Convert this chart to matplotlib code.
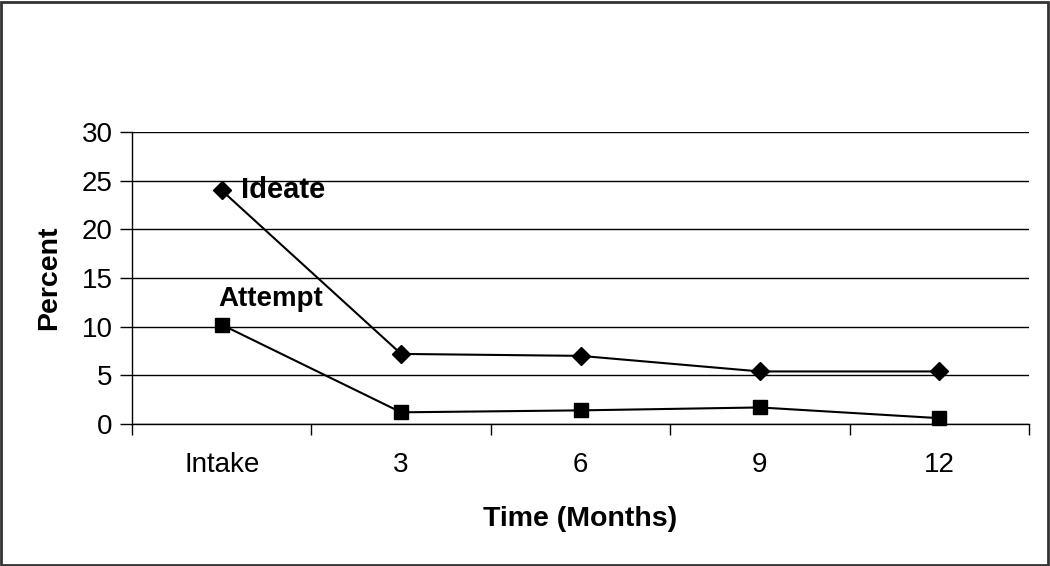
import matplotlib
matplotlib.use("Agg")
import matplotlib.pyplot as plt
from matplotlib.patches import Rectangle
import numpy as np

# Data
categories = ["Intake", "3", "6", "9", "12"]
ideate = [24.0, 7.2, 7.0, 5.4, 5.4]
attempt = [10.2, 1.2, 1.4, 1.7, 0.6]

plt.rcParams["font.family"] = ["Liberation Sans", "DejaVu Sans"]

fig = plt.figure(figsize=(10.5, 5.66), dpi=100)
ax = fig.add_axes([132 / 1050, 1 - 424 / 566, 897 / 1050, 292 / 566])

x = np.arange(len(categories))
ax.plot(x, ideate, color="black", lw=1.5, marker="D", markersize=9, zorder=3, clip_on=False)
ax.plot(x, attempt, color="black", lw=1.5, marker="s", markersize=9.5, zorder=3, clip_on=False)

ax.text(x[0] + 0.11, ideate[0], "Ideate", fontsize=21, fontweight="bold", va="center", ha="left")
ax.text(x[0] - 0.02, attempt[0] + 2.6, "Attempt", fontsize=20, fontweight="bold", va="center", ha="left")

ax.set_xlim(-0.5, len(categories) - 0.5)
ax.set_ylim(0, 30)
ax.set_yticks(np.arange(0, 31, 5))
ax.yaxis.grid(True, color="black", lw=1)
ax.set_axisbelow(True)

ax.set_xticks(np.arange(-0.5, len(categories), 1.0))
ax.set_xticklabels([])
ax.set_xticks(x, minor=True)
ax.set_xticklabels(categories, minor=True)
ax.tick_params(axis="x", which="minor", length=0, pad=20, labelsize=20)
ax.tick_params(axis="x", which="major", length=8, width=1, direction="out")
ax.tick_params(axis="y", length=9, width=1, direction="out", labelsize=20, pad=5)

for s in ["top", "right"]:
    ax.spines[s].set_visible(False)
for s in ["left", "bottom"]:
    ax.spines[s].set_linewidth(1)

ax.set_ylabel("Percent", fontsize=20.5, fontweight="bold", labelpad=14)
ax.set_xlabel("Time (Months)", fontsize=20.5, fontweight="bold", labelpad=20)

fig.patches.append(Rectangle((0.001, 0.002), 0.997, 0.995, transform=fig.transFigure,
                             fill=False, edgecolor="#333333", lw=2))

fig.savefig("out.png", dpi=100)
